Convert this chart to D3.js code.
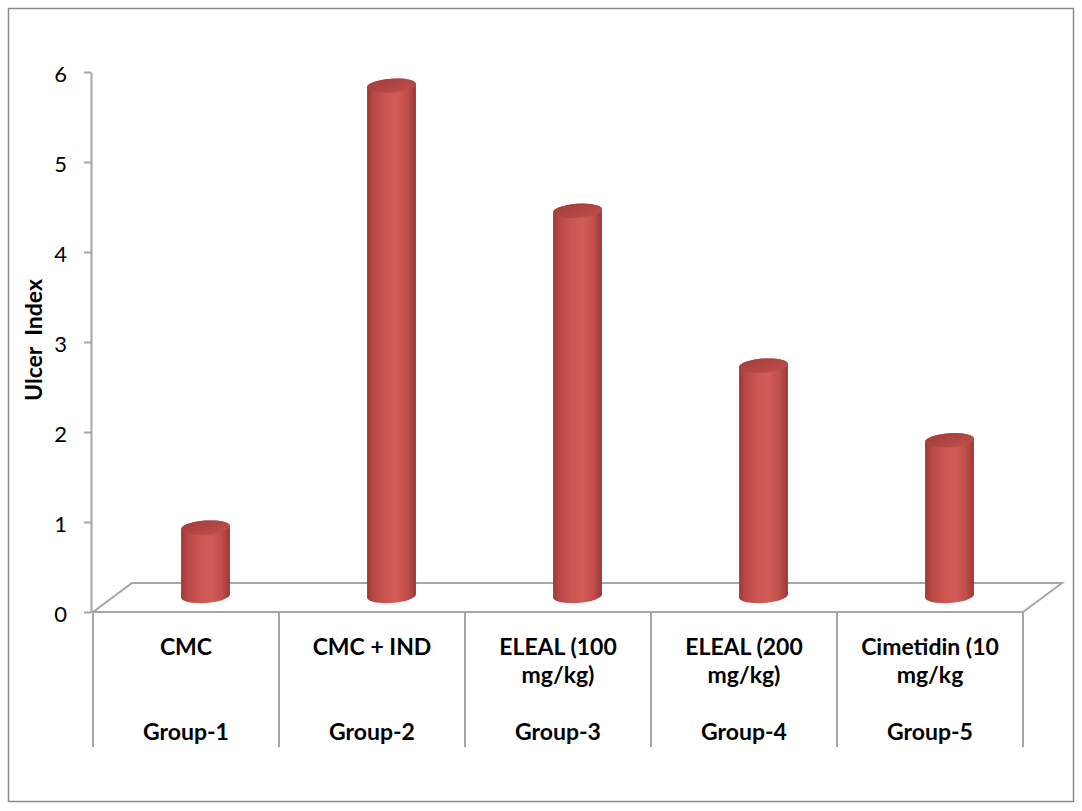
<!DOCTYPE html>
<html>
<head>
<meta charset="utf-8">
<script src="https://cdn.jsdelivr.net/npm/d3@7"></script>
<style>
  html, body { margin: 0; padding: 0; background: #fff; }
  svg { display: block; }
</style>
</head>
<body>
<svg id="chart" width="1082" height="811"></svg>
<script>
// Ulcer index by treatment group
const groups = ["Group-1", "Group-2", "Group-3", "Group-4", "Group-5"];
const treatmentLines = [
  ["CMC"],
  ["CMC + IND"],
  ["ELEAL (100", "mg/kg)"],
  ["ELEAL (200", "mg/kg)"],
  ["Cimetidin (10", "mg/kg"]
];
const ulcerIndex = [0.76, 5.67, 4.28, 2.56, 1.73];
const yTicks = [0, 1, 2, 3, 4, 5, 6];
const yTitle = "Ulcer  Index";

const svg = d3.select("#chart");
const font = "Lato, 'Open Sans', sans-serif";
const lineGray = "#a6a6a6";

// Outer chart frame
svg.append("rect")
  .attr("x", 8.5).attr("y", 8.5)
  .attr("width", 1065).attr("height", 793)
  .attr("fill", "#fff")
  .attr("stroke", "#8c8c8c").attr("stroke-width", 1.5);

const x = d3.scaleBand().domain(groups).range([93, 1023]).padding(0);
const y = d3.scaleLinear().domain([0, 6]).range([612, 72]);

// depth of the floor (oblique projection)
const depth = { dx: 39, dy: -29 };
const mid = { dx: depth.dx / 2, dy: depth.dy / 2 - 1.5 };

// Floor
const x0 = x.range()[0], x1 = x.range()[1], y0 = y(0);
svg.append("path")
  .attr("d", d3.line()([
    [x0, y0], [x1, y0], [x1 + depth.dx, y0 + depth.dy], [x0 + depth.dx, y0 + depth.dy]
  ]) + "Z")
  .attr("fill", "#fff")
  .attr("stroke", lineGray).attr("stroke-width", 2)
  .attr("stroke-linejoin", "miter");

// Value axis
const yAxis = d3.axisLeft(y)
  .tickValues(yTicks)
  .tickFormat(d3.format("d"))
  .tickSize(7)
  .tickSizeOuter(0)
  .tickPadding(17);

const gy = svg.append("g")
  .attr("transform", "translate(91,0)")
  .call(yAxis);
gy.select(".domain").attr("stroke", lineGray).attr("stroke-width", 2);
gy.selectAll(".tick line").attr("stroke", lineGray).attr("stroke-width", 2);
gy.selectAll(".tick text")
  .attr("font-family", font)
  .attr("font-size", 22)
  .attr("fill", "#000")
  .attr("dy", "0.42em");

// Category axis: separators between groups
const edges = groups.map(g => x(g)).concat([x1]);
svg.append("g").selectAll("line")
  .data(edges)
  .join("line")
  .attr("x1", d => d).attr("x2", d => d)
  .attr("y1", y0).attr("y2", 747)
  .attr("stroke", lineGray).attr("stroke-width", 2);

// Category labels (two levels)
const labels = svg.append("g")
  .attr("font-family", font)
  .attr("font-weight", "bold")
  .attr("font-size", 23)
  .attr("text-anchor", "middle")
  .attr("fill", "#000");

groups.forEach((g, i) => {
  const cx = x(g) + x.bandwidth() / 2;
  treatmentLines[i].forEach((line, j) => {
    labels.append("text")
      .attr("x", cx)
      .attr("y", 655 + j * 28)
      .text(line);
  });
  labels.append("text")
    .attr("x", cx)
    .attr("y", 740)
    .text(g);
});

// Axis title
svg.append("text")
  .attr("transform", "translate(42,340) rotate(-90)")
  .attr("text-anchor", "middle")
  .attr("font-family", font)
  .attr("font-weight", "bold")
  .attr("font-size", 23)
  .attr("fill", "#000")
  .style("white-space", "pre")
  .text(yTitle);

// Cylinder shading
const defs = svg.append("defs");
const bodyGrad = defs.append("linearGradient")
  .attr("id", "cylBody").attr("x1", "0").attr("x2", "1").attr("y1", "0").attr("y2", "0");
[
  [0, "#9e3936"], [0.12, "#b84744"], [0.4, "#cd5753"], [0.6, "#d15b57"],
  [0.82, "#c24f4b"], [1, "#9a3835"]
].forEach(([o, c]) => bodyGrad.append("stop").attr("offset", o).attr("stop-color", c));

const capGrad = defs.append("linearGradient")
  .attr("id", "cylTop").attr("x1", "0").attr("x2", "1").attr("y1", "0").attr("y2", "1");
[[0, "#a23e3b"], [0.55, "#b24744"], [1, "#c0504c"]]
  .forEach(([o, c]) => capGrad.append("stop").attr("offset", o).attr("stop-color", c));

const rx = 24.5, ry = 7, tilt = -4;

const bars = svg.append("g").selectAll("g")
  .data(groups.map((g, i) => ({ g, v: ulcerIndex[i] })))
  .join("g")
  .attr("transform", d => `translate(${x(d.g) + x.bandwidth() / 2 + mid.dx},0)`);

bars.each(function (d) {
  const gsel = d3.select(this);
  const yb = y(0) + mid.dy;
  const yt = y(d.v) + mid.dy;
  const a = tilt * Math.PI / 180;
  // ends of the tilted ellipse's major axis
  const sx = rx * Math.cos(a), sy = rx * Math.sin(a);
  const path = `M${-sx},${yt - sy} L${-sx},${yb - sy}` +
    ` A${rx},${ry} ${tilt} 0 0 ${sx},${yb + sy}` +
    ` L${sx},${yt + sy}` +
    ` A${rx},${ry} ${tilt} 0 0 ${-sx},${yt - sy} Z`;
  gsel.append("path")
    .attr("d", path)
    .attr("fill", "url(#cylBody)");
  gsel.append("ellipse")
    .attr("cx", 0).attr("cy", yt)
    .attr("rx", rx).attr("ry", ry)
    .attr("transform", `rotate(${tilt},0,${yt})`)
    .attr("fill", "url(#cylTop)");
});
</script>
</body>
</html>
